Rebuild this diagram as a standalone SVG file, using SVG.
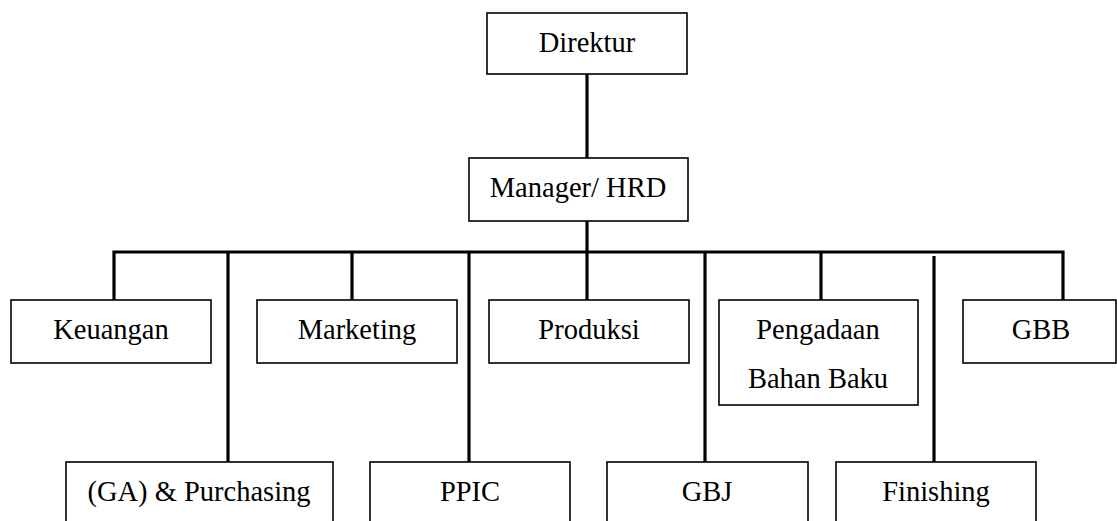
<svg xmlns="http://www.w3.org/2000/svg" width="1117" height="521" viewBox="0 0 1117 521">
<style>
.box{fill:#fff;stroke:#000;stroke-width:1.6}
.t{font-size:28.5px;fill:#000;text-anchor:middle}
.c{stroke:#000;stroke-width:3.2;fill:none}
</style>
<rect width="1117" height="521" fill="#fff"/>
<g id="connectors">
<line class="c" x1="587" y1="74" x2="587" y2="158"/>
<line class="c" x1="587" y1="221" x2="587" y2="252"/>
<polyline class="c" points="114,300 114,252 1063,252 1063,300"/>
<line class="c" x1="228" y1="252" x2="228" y2="462"/>
<line class="c" x1="352" y1="252" x2="352" y2="300"/>
<line class="c" x1="469" y1="252" x2="469" y2="462"/>
<line class="c" x1="587" y1="252" x2="587" y2="300"/>
<line class="c" x1="705" y1="252" x2="705" y2="462"/>
<line class="c" x1="821" y1="252" x2="821" y2="300"/>
<line class="c" x1="934" y1="256" x2="934" y2="467"/>
</g>
<g font-family="Liberation Serif, Times New Roman, serif">
<g id="direktur"><rect class="box" x="487" y="13" width="200" height="61"/><text class="t" x="587" y="52">Direktur</text></g>
<g id="manager"><rect class="box" x="469" y="158" width="219" height="63"/><text class="t" x="578" y="197">Manager/ HRD</text></g>
<g id="keuangan"><rect class="box" x="11" y="300" width="200" height="63"/><text class="t" x="111" y="339">Keuangan</text></g>
<g id="marketing"><rect class="box" x="257" y="300" width="200" height="63"/><text class="t" x="357" y="339">Marketing</text></g>
<g id="produksi"><rect class="box" x="489" y="300" width="200" height="63"/><text class="t" x="589" y="339">Produksi</text></g>
<g id="pengadaan"><rect class="box" x="719" y="300" width="199" height="105"/><text class="t" x="818" y="339">Pengadaan</text><text class="t" x="818" y="388">Bahan Baku</text></g>
<g id="gbb"><rect class="box" x="963" y="300" width="153" height="63"/><text class="t" x="1041" y="339">GBB</text></g>
<g id="ga"><rect class="box" x="66" y="462" width="267" height="63"/><text class="t" x="199" y="501">(GA) &amp; Purchasing</text></g>
<g id="ppic"><rect class="box" x="370" y="462" width="200" height="63"/><text class="t" x="470" y="501">PPIC</text></g>
<g id="gbj"><rect class="box" x="607" y="462" width="201" height="63"/><text class="t" x="707" y="501">GBJ</text></g>
<g id="finishing"><rect class="box" x="836" y="462" width="200" height="63"/><text class="t" x="936" y="501">Finishing</text></g>
</g>
</svg>
